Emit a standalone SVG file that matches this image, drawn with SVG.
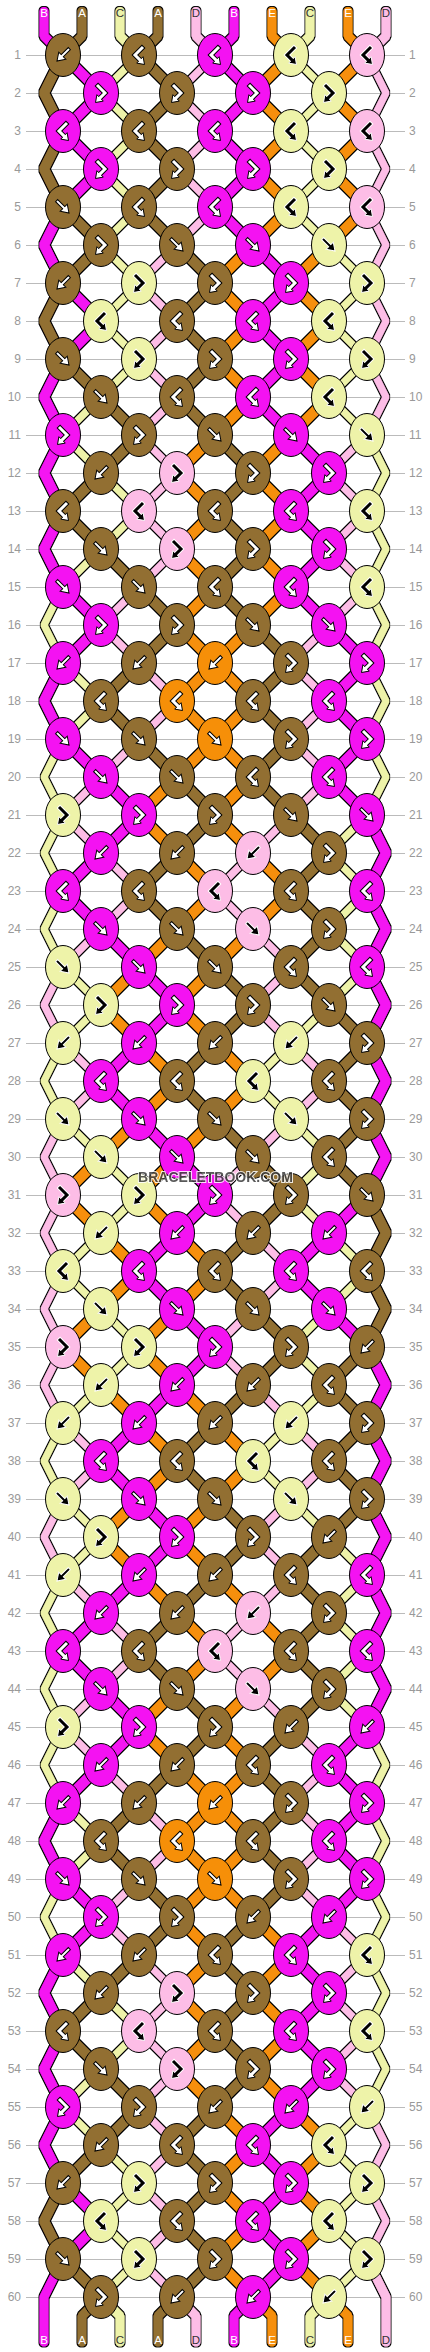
<svg xmlns="http://www.w3.org/2000/svg" width="430" height="2352" viewBox="0 0 430 2352">
<style>
.n{stroke:#926f32;stroke-width:10}
.m{stroke:#f412f2;stroke-width:10}
.o{stroke:#f68f08;stroke-width:10}
.y{stroke:#eef3a9;stroke-width:7}
.p{stroke:#fdbde6;stroke-width:7}
.e{stroke-width:9}
.bn{fill:#926f32;color:#fff;stroke:#000}
.mg{fill:#f412f2;color:#fff;stroke:#000}
.or{fill:#f68f08;color:#fff;stroke:#000}
.yl{fill:#eef3a9;color:#000;stroke:#fff}
.pk{fill:#fdbde6;color:#000;stroke:#fff}
.num{font-family:"Liberation Sans",Arial,sans-serif;font-size:12px;fill:#999}
.lt{font-family:"Liberation Sans",Arial,sans-serif;font-size:11.5px;text-anchor:middle}
</style>
<defs>
<filter id="ol" filterUnits="userSpaceOnUse" x="0" y="0" width="430" height="2352">
<feMorphology in="SourceAlpha" operator="dilate" radius="1" result="d"/>
<feMerge><feMergeNode in="d"/><feMergeNode in="SourceGraphic"/></feMerge>
</filter>
<path id="a1" d="M63 0l38 38"/><path id="a2" d="M139 0l-38 38"/><path id="a3" d="M139 0l38 38"/><path id="a4" d="M215 0l-38 38"/><path id="a5" d="M215 0l38 38"/><path id="a6" d="M291 0l-38 38"/><path id="a7" d="M291 0l38 38"/><path id="a8" d="M367 0l-38 38"/>
<path id="b1" d="M101 0l-38 38"/><path id="b2" d="M101 0l38 38"/><path id="b3" d="M177 0l-38 38"/><path id="b4" d="M177 0l38 38"/><path id="b5" d="M253 0l-38 38"/><path id="b6" d="M253 0l38 38"/><path id="b7" d="M329 0l-38 38"/><path id="b8" d="M329 0l38 38"/>
<path id="lc" d="M63-38L44 0L63 38"/><path id="rc" d="M367-38L386 0L367 38"/>
<path id="aF" d="M-9-1.5H1V-5L8.5 0L1 5V1.5H-9Z" fill="currentColor" stroke-width="1" stroke-linejoin="miter"/>
<g id="aH"><path d="M-4.7-8.7L4 0L-.9 4.9" fill="none" stroke-width="5" stroke-linejoin="miter"/><path d="M-5.5 9.5L2.3 8.1L-4.1 1.7Z" fill="currentColor" stroke-width="1"/><path d="M-4-8L4 0L-1.4 5.4" fill="none" stroke="currentColor" stroke-width="3" stroke-linejoin="miter"/></g>
<g id="fw"><ellipse rx="17.5" ry="21.5" stroke="#000" stroke-width="1"/><use href="#aF" transform="rotate(45)"/></g>
<g id="bw"><ellipse rx="17.5" ry="21.5" stroke="#000" stroke-width="1"/><use href="#aF" transform="rotate(135)"/></g>
<g id="fb"><ellipse rx="17.5" ry="21.5" stroke="#000" stroke-width="1"/><use href="#aH"/></g>
<g id="bf"><ellipse rx="17.5" ry="21.5" stroke="#000" stroke-width="1"/><use href="#aH" transform="scale(-1 1)"/></g>
</defs>
<rect width="430" height="2352" fill="#fff"/>
<g id="gridlines">
<path stroke="#bbb" stroke-width="1" shape-rendering="crispEdges" d="M26 55H405M26 93H405M26 131H405M26 169H405M26 207H405M26 245H405M26 283H405M26 321H405M26 359H405M26 397H405M26 435H405M26 473H405M26 511H405M26 549H405M26 587H405M26 625H405M26 663H405M26 701H405M26 739H405M26 777H405M26 815H405M26 853H405M26 891H405M26 929H405M26 967H405M26 1005H405M26 1043H405M26 1081H405M26 1119H405M26 1157H405M26 1195H405M26 1233H405M26 1271H405M26 1309H405M26 1347H405M26 1385H405M26 1423H405M26 1461H405M26 1499H405M26 1537H405M26 1575H405M26 1613H405M26 1651H405M26 1689H405M26 1727H405M26 1765H405M26 1803H405M26 1841H405M26 1879H405M26 1917H405M26 1955H405M26 1993H405M26 2031H405M26 2069H405M26 2107H405M26 2145H405M26 2183H405M26 2221H405M26 2259H405M26 2297H405"/>
<g class="num" text-anchor="end">
<text x="21" y="59">1</text><text x="21" y="97">2</text><text x="21" y="135">3</text><text x="21" y="173">4</text><text x="21" y="211">5</text><text x="21" y="249">6</text><text x="21" y="287">7</text><text x="21" y="325">8</text><text x="21" y="363">9</text><text x="21" y="401">10</text><text x="21" y="439">11</text><text x="21" y="477">12</text><text x="21" y="515">13</text><text x="21" y="553">14</text><text x="21" y="591">15</text><text x="21" y="629">16</text><text x="21" y="667">17</text><text x="21" y="705">18</text><text x="21" y="743">19</text><text x="21" y="781">20</text><text x="21" y="819">21</text><text x="21" y="857">22</text><text x="21" y="895">23</text><text x="21" y="933">24</text><text x="21" y="971">25</text><text x="21" y="1009">26</text><text x="21" y="1047">27</text><text x="21" y="1085">28</text><text x="21" y="1123">29</text><text x="21" y="1161">30</text><text x="21" y="1199">31</text><text x="21" y="1237">32</text><text x="21" y="1275">33</text><text x="21" y="1313">34</text><text x="21" y="1351">35</text><text x="21" y="1389">36</text><text x="21" y="1427">37</text><text x="21" y="1465">38</text><text x="21" y="1503">39</text><text x="21" y="1541">40</text><text x="21" y="1579">41</text><text x="21" y="1617">42</text><text x="21" y="1655">43</text><text x="21" y="1693">44</text><text x="21" y="1731">45</text><text x="21" y="1769">46</text><text x="21" y="1807">47</text><text x="21" y="1845">48</text><text x="21" y="1883">49</text><text x="21" y="1921">50</text><text x="21" y="1959">51</text><text x="21" y="1997">52</text><text x="21" y="2035">53</text><text x="21" y="2073">54</text><text x="21" y="2111">55</text><text x="21" y="2149">56</text><text x="21" y="2187">57</text><text x="21" y="2225">58</text><text x="21" y="2263">59</text><text x="21" y="2301">60</text>
</g>
<g class="num">
<text x="409" y="59">1</text><text x="409" y="97">2</text><text x="409" y="135">3</text><text x="409" y="173">4</text><text x="409" y="211">5</text><text x="409" y="249">6</text><text x="409" y="287">7</text><text x="409" y="325">8</text><text x="409" y="363">9</text><text x="409" y="401">10</text><text x="409" y="439">11</text><text x="409" y="477">12</text><text x="409" y="515">13</text><text x="409" y="553">14</text><text x="409" y="591">15</text><text x="409" y="629">16</text><text x="409" y="667">17</text><text x="409" y="705">18</text><text x="409" y="743">19</text><text x="409" y="781">20</text><text x="409" y="819">21</text><text x="409" y="857">22</text><text x="409" y="895">23</text><text x="409" y="933">24</text><text x="409" y="971">25</text><text x="409" y="1009">26</text><text x="409" y="1047">27</text><text x="409" y="1085">28</text><text x="409" y="1123">29</text><text x="409" y="1161">30</text><text x="409" y="1199">31</text><text x="409" y="1237">32</text><text x="409" y="1275">33</text><text x="409" y="1313">34</text><text x="409" y="1351">35</text><text x="409" y="1389">36</text><text x="409" y="1427">37</text><text x="409" y="1465">38</text><text x="409" y="1503">39</text><text x="409" y="1541">40</text><text x="409" y="1579">41</text><text x="409" y="1617">42</text><text x="409" y="1655">43</text><text x="409" y="1693">44</text><text x="409" y="1731">45</text><text x="409" y="1769">46</text><text x="409" y="1807">47</text><text x="409" y="1845">48</text><text x="409" y="1883">49</text><text x="409" y="1921">50</text><text x="409" y="1959">51</text><text x="409" y="1997">52</text><text x="409" y="2035">53</text><text x="409" y="2073">54</text><text x="409" y="2111">55</text><text x="409" y="2149">56</text><text x="409" y="2187">57</text><text x="409" y="2225">58</text><text x="409" y="2263">59</text><text x="409" y="2301">60</text>
</g>
</g>
<g id="connectors" filter="url(#ol)" fill="none" stroke-linecap="round" stroke-linejoin="bevel">
<path class="m e" d="M44 11.5V36L63 55"/><path class="n e" d="M82 11.5V36L63 55"/><path class="y e" d="M120 11.5V36L139 55"/><path class="n e" d="M158 11.5V36L139 55"/><path class="p e" d="M196 11.5V36L215 55"/><path class="m e" d="M234 11.5V36L215 55"/><path class="o e" d="M272 11.5V36L291 55"/><path class="y e" d="M310 11.5V36L291 55"/><path class="o e" d="M348 11.5V36L367 55"/><path class="p e" d="M386 11.5V36L367 55"/>
<path class="m e" d="M63 2259L44 2297V2342"/><path class="n e" d="M101 2297L82 2316V2342"/><path class="y e" d="M101 2297L120 2316V2342"/><path class="n e" d="M177 2297L158 2316V2342"/><path class="p e" d="M177 2297L196 2316V2342"/><path class="m e" d="M253 2297L234 2316V2342"/><path class="o e" d="M253 2297L272 2316V2342"/><path class="y e" d="M329 2297L310 2316V2342"/><path class="o e" d="M329 2297L348 2316V2342"/><path class="p e" d="M367 2259L386 2297V2342"/>
<g transform="translate(0 55)"><use href="#a1" class="m"/><use href="#a2" class="y"/><use href="#a3" class="n"/><use href="#a4" class="p"/><use href="#a5" class="m"/><use href="#a6" class="o"/><use href="#a7" class="y"/><use href="#a8" class="o"/></g>
<g transform="translate(0 93)"><use href="#b1" class="m"/><use href="#b2" class="y"/><use href="#b3" class="n"/><use href="#b4" class="p"/><use href="#b5" class="m"/><use href="#b6" class="o"/><use href="#b7" class="y"/><use href="#b8" class="o"/><use href="#lc" class="n"/><use href="#rc" class="p"/></g>
<g transform="translate(0 131)"><use href="#a1" class="m"/><use href="#a2" class="y"/><use href="#a3" class="n"/><use href="#a4" class="p"/><use href="#a5" class="m"/><use href="#a6" class="o"/><use href="#a7" class="y"/><use href="#a8" class="o"/></g>
<g transform="translate(0 169)"><use href="#b1" class="m"/><use href="#b2" class="y"/><use href="#b3" class="n"/><use href="#b4" class="p"/><use href="#b5" class="m"/><use href="#b6" class="o"/><use href="#b7" class="y"/><use href="#b8" class="o"/><use href="#lc" class="n"/><use href="#rc" class="p"/></g>
<g transform="translate(0 207)"><use href="#a1" class="n"/><use href="#a2" class="y"/><use href="#a3" class="n"/><use href="#a4" class="p"/><use href="#a5" class="m"/><use href="#a6" class="o"/><use href="#a7" class="y"/><use href="#a8" class="o"/></g>
<g transform="translate(0 245)"><use href="#b1" class="n"/><use href="#b2" class="y"/><use href="#b3" class="p"/><use href="#b4" class="n"/><use href="#b5" class="o"/><use href="#b6" class="m"/><use href="#b7" class="o"/><use href="#b8" class="y"/><use href="#lc" class="m"/><use href="#rc" class="p"/></g>
<g transform="translate(0 283)"><use href="#a1" class="m"/><use href="#a2" class="y"/><use href="#a3" class="p"/><use href="#a4" class="n"/><use href="#a5" class="o"/><use href="#a6" class="m"/><use href="#a7" class="o"/><use href="#a8" class="y"/></g>
<g transform="translate(0 321)"><use href="#b1" class="m"/><use href="#b2" class="y"/><use href="#b3" class="p"/><use href="#b4" class="n"/><use href="#b5" class="o"/><use href="#b6" class="m"/><use href="#b7" class="o"/><use href="#b8" class="y"/><use href="#lc" class="n"/><use href="#rc" class="p"/></g>
<g transform="translate(0 359)"><use href="#a1" class="n"/><use href="#a2" class="y"/><use href="#a3" class="p"/><use href="#a4" class="n"/><use href="#a5" class="o"/><use href="#a6" class="m"/><use href="#a7" class="o"/><use href="#a8" class="y"/></g>
<g transform="translate(0 397)"><use href="#b1" class="y"/><use href="#b2" class="n"/><use href="#b3" class="p"/><use href="#b4" class="n"/><use href="#b5" class="o"/><use href="#b6" class="m"/><use href="#b7" class="o"/><use href="#b8" class="y"/><use href="#lc" class="m"/><use href="#rc" class="p"/></g>
<g transform="translate(0 435)"><use href="#a1" class="y"/><use href="#a2" class="n"/><use href="#a3" class="p"/><use href="#a4" class="o"/><use href="#a5" class="n"/><use href="#a6" class="o"/><use href="#a7" class="m"/><use href="#a8" class="p"/></g>
<g transform="translate(0 473)"><use href="#b1" class="n"/><use href="#b2" class="y"/><use href="#b3" class="p"/><use href="#b4" class="o"/><use href="#b5" class="n"/><use href="#b6" class="o"/><use href="#b7" class="m"/><use href="#b8" class="p"/><use href="#lc" class="m"/><use href="#rc" class="y"/></g>
<g transform="translate(0 511)"><use href="#a1" class="n"/><use href="#a2" class="y"/><use href="#a3" class="p"/><use href="#a4" class="o"/><use href="#a5" class="n"/><use href="#a6" class="o"/><use href="#a7" class="m"/><use href="#a8" class="p"/></g>
<g transform="translate(0 549)"><use href="#b1" class="y"/><use href="#b2" class="n"/><use href="#b3" class="p"/><use href="#b4" class="o"/><use href="#b5" class="n"/><use href="#b6" class="o"/><use href="#b7" class="m"/><use href="#b8" class="p"/><use href="#lc" class="m"/><use href="#rc" class="y"/></g>
<g transform="translate(0 587)"><use href="#a1" class="m"/><use href="#a2" class="p"/><use href="#a3" class="n"/><use href="#a4" class="o"/><use href="#a5" class="n"/><use href="#a6" class="o"/><use href="#a7" class="m"/><use href="#a8" class="p"/></g>
<g transform="translate(0 625)"><use href="#b1" class="m"/><use href="#b2" class="p"/><use href="#b3" class="n"/><use href="#b4" class="o"/><use href="#b5" class="o"/><use href="#b6" class="n"/><use href="#b7" class="p"/><use href="#b8" class="m"/><use href="#lc" class="y"/><use href="#rc" class="y"/></g>
<g transform="translate(0 663)"><use href="#a1" class="y"/><use href="#a2" class="n"/><use href="#a3" class="p"/><use href="#a4" class="o"/><use href="#a5" class="o"/><use href="#a6" class="n"/><use href="#a7" class="p"/><use href="#a8" class="m"/></g>
<g transform="translate(0 701)"><use href="#b1" class="y"/><use href="#b2" class="n"/><use href="#b3" class="p"/><use href="#b4" class="o"/><use href="#b5" class="o"/><use href="#b6" class="n"/><use href="#b7" class="p"/><use href="#b8" class="m"/><use href="#lc" class="m"/><use href="#rc" class="y"/></g>
<g transform="translate(0 739)"><use href="#a1" class="m"/><use href="#a2" class="p"/><use href="#a3" class="n"/><use href="#a4" class="o"/><use href="#a5" class="o"/><use href="#a6" class="n"/><use href="#a7" class="p"/><use href="#a8" class="m"/></g>
<g transform="translate(0 777)"><use href="#b1" class="p"/><use href="#b2" class="m"/><use href="#b3" class="o"/><use href="#b4" class="n"/><use href="#b5" class="o"/><use href="#b6" class="n"/><use href="#b7" class="p"/><use href="#b8" class="m"/><use href="#lc" class="y"/><use href="#rc" class="y"/></g>
<g transform="translate(0 815)"><use href="#a1" class="p"/><use href="#a2" class="m"/><use href="#a3" class="o"/><use href="#a4" class="n"/><use href="#a5" class="o"/><use href="#a6" class="p"/><use href="#a7" class="n"/><use href="#a8" class="y"/></g>
<g transform="translate(0 853)"><use href="#b1" class="m"/><use href="#b2" class="p"/><use href="#b3" class="n"/><use href="#b4" class="o"/><use href="#b5" class="p"/><use href="#b6" class="o"/><use href="#b7" class="n"/><use href="#b8" class="y"/><use href="#lc" class="y"/><use href="#rc" class="m"/></g>
<g transform="translate(0 891)"><use href="#a1" class="m"/><use href="#a2" class="p"/><use href="#a3" class="n"/><use href="#a4" class="o"/><use href="#a5" class="p"/><use href="#a6" class="o"/><use href="#a7" class="n"/><use href="#a8" class="y"/></g>
<g transform="translate(0 929)"><use href="#b1" class="p"/><use href="#b2" class="m"/><use href="#b3" class="o"/><use href="#b4" class="n"/><use href="#b5" class="o"/><use href="#b6" class="p"/><use href="#b7" class="n"/><use href="#b8" class="y"/><use href="#lc" class="y"/><use href="#rc" class="m"/></g>
<g transform="translate(0 967)"><use href="#a1" class="y"/><use href="#a2" class="o"/><use href="#a3" class="m"/><use href="#a4" class="o"/><use href="#a5" class="n"/><use href="#a6" class="p"/><use href="#a7" class="n"/><use href="#a8" class="y"/></g>
<g transform="translate(0 1005)"><use href="#b1" class="y"/><use href="#b2" class="o"/><use href="#b3" class="m"/><use href="#b4" class="o"/><use href="#b5" class="n"/><use href="#b6" class="p"/><use href="#b7" class="y"/><use href="#b8" class="n"/><use href="#lc" class="p"/><use href="#rc" class="m"/></g>
<g transform="translate(0 1043)"><use href="#a1" class="p"/><use href="#a2" class="m"/><use href="#a3" class="o"/><use href="#a4" class="n"/><use href="#a5" class="o"/><use href="#a6" class="y"/><use href="#a7" class="p"/><use href="#a8" class="n"/></g>
<g transform="translate(0 1081)"><use href="#b1" class="p"/><use href="#b2" class="m"/><use href="#b3" class="o"/><use href="#b4" class="n"/><use href="#b5" class="o"/><use href="#b6" class="y"/><use href="#b7" class="p"/><use href="#b8" class="n"/><use href="#lc" class="y"/><use href="#rc" class="m"/></g>
<g transform="translate(0 1119)"><use href="#a1" class="y"/><use href="#a2" class="o"/><use href="#a3" class="m"/><use href="#a4" class="o"/><use href="#a5" class="n"/><use href="#a6" class="p"/><use href="#a7" class="y"/><use href="#a8" class="n"/></g>
<g transform="translate(0 1157)"><use href="#b1" class="o"/><use href="#b2" class="y"/><use href="#b3" class="o"/><use href="#b4" class="m"/><use href="#b5" class="p"/><use href="#b6" class="n"/><use href="#b7" class="y"/><use href="#b8" class="n"/><use href="#lc" class="p"/><use href="#rc" class="m"/></g>
<g transform="translate(0 1195)"><use href="#a1" class="o"/><use href="#a2" class="y"/><use href="#a3" class="o"/><use href="#a4" class="m"/><use href="#a5" class="p"/><use href="#a6" class="n"/><use href="#a7" class="y"/><use href="#a8" class="m"/></g>
<g transform="translate(0 1233)"><use href="#b1" class="y"/><use href="#b2" class="o"/><use href="#b3" class="m"/><use href="#b4" class="o"/><use href="#b5" class="n"/><use href="#b6" class="p"/><use href="#b7" class="m"/><use href="#b8" class="y"/><use href="#lc" class="p"/><use href="#rc" class="n"/></g>
<g transform="translate(0 1271)"><use href="#a1" class="y"/><use href="#a2" class="o"/><use href="#a3" class="m"/><use href="#a4" class="o"/><use href="#a5" class="n"/><use href="#a6" class="p"/><use href="#a7" class="m"/><use href="#a8" class="y"/></g>
<g transform="translate(0 1309)"><use href="#b1" class="o"/><use href="#b2" class="y"/><use href="#b3" class="o"/><use href="#b4" class="m"/><use href="#b5" class="p"/><use href="#b6" class="n"/><use href="#b7" class="y"/><use href="#b8" class="m"/><use href="#lc" class="p"/><use href="#rc" class="n"/></g>
<g transform="translate(0 1347)"><use href="#a1" class="o"/><use href="#a2" class="y"/><use href="#a3" class="o"/><use href="#a4" class="m"/><use href="#a5" class="p"/><use href="#a6" class="n"/><use href="#a7" class="y"/><use href="#a8" class="n"/></g>
<g transform="translate(0 1385)"><use href="#b1" class="y"/><use href="#b2" class="o"/><use href="#b3" class="m"/><use href="#b4" class="o"/><use href="#b5" class="n"/><use href="#b6" class="p"/><use href="#b7" class="y"/><use href="#b8" class="n"/><use href="#lc" class="p"/><use href="#rc" class="m"/></g>
<g transform="translate(0 1423)"><use href="#a1" class="p"/><use href="#a2" class="m"/><use href="#a3" class="o"/><use href="#a4" class="n"/><use href="#a5" class="o"/><use href="#a6" class="y"/><use href="#a7" class="p"/><use href="#a8" class="n"/></g>
<g transform="translate(0 1461)"><use href="#b1" class="p"/><use href="#b2" class="m"/><use href="#b3" class="o"/><use href="#b4" class="n"/><use href="#b5" class="o"/><use href="#b6" class="y"/><use href="#b7" class="p"/><use href="#b8" class="n"/><use href="#lc" class="y"/><use href="#rc" class="m"/></g>
<g transform="translate(0 1499)"><use href="#a1" class="y"/><use href="#a2" class="o"/><use href="#a3" class="m"/><use href="#a4" class="o"/><use href="#a5" class="n"/><use href="#a6" class="p"/><use href="#a7" class="y"/><use href="#a8" class="n"/></g>
<g transform="translate(0 1537)"><use href="#b1" class="y"/><use href="#b2" class="o"/><use href="#b3" class="m"/><use href="#b4" class="o"/><use href="#b5" class="n"/><use href="#b6" class="p"/><use href="#b7" class="n"/><use href="#b8" class="y"/><use href="#lc" class="p"/><use href="#rc" class="m"/></g>
<g transform="translate(0 1575)"><use href="#a1" class="p"/><use href="#a2" class="m"/><use href="#a3" class="o"/><use href="#a4" class="n"/><use href="#a5" class="o"/><use href="#a6" class="p"/><use href="#a7" class="n"/><use href="#a8" class="y"/></g>
<g transform="translate(0 1613)"><use href="#b1" class="m"/><use href="#b2" class="p"/><use href="#b3" class="n"/><use href="#b4" class="o"/><use href="#b5" class="p"/><use href="#b6" class="o"/><use href="#b7" class="n"/><use href="#b8" class="y"/><use href="#lc" class="y"/><use href="#rc" class="m"/></g>
<g transform="translate(0 1651)"><use href="#a1" class="m"/><use href="#a2" class="p"/><use href="#a3" class="n"/><use href="#a4" class="o"/><use href="#a5" class="p"/><use href="#a6" class="o"/><use href="#a7" class="n"/><use href="#a8" class="y"/></g>
<g transform="translate(0 1689)"><use href="#b1" class="p"/><use href="#b2" class="m"/><use href="#b3" class="o"/><use href="#b4" class="n"/><use href="#b5" class="o"/><use href="#b6" class="p"/><use href="#b7" class="n"/><use href="#b8" class="y"/><use href="#lc" class="y"/><use href="#rc" class="m"/></g>
<g transform="translate(0 1727)"><use href="#a1" class="p"/><use href="#a2" class="m"/><use href="#a3" class="o"/><use href="#a4" class="n"/><use href="#a5" class="o"/><use href="#a6" class="n"/><use href="#a7" class="p"/><use href="#a8" class="m"/></g>
<g transform="translate(0 1765)"><use href="#b1" class="m"/><use href="#b2" class="p"/><use href="#b3" class="n"/><use href="#b4" class="o"/><use href="#b5" class="o"/><use href="#b6" class="n"/><use href="#b7" class="p"/><use href="#b8" class="m"/><use href="#lc" class="y"/><use href="#rc" class="y"/></g>
<g transform="translate(0 1803)"><use href="#a1" class="y"/><use href="#a2" class="n"/><use href="#a3" class="p"/><use href="#a4" class="o"/><use href="#a5" class="o"/><use href="#a6" class="n"/><use href="#a7" class="p"/><use href="#a8" class="m"/></g>
<g transform="translate(0 1841)"><use href="#b1" class="y"/><use href="#b2" class="n"/><use href="#b3" class="p"/><use href="#b4" class="o"/><use href="#b5" class="o"/><use href="#b6" class="n"/><use href="#b7" class="p"/><use href="#b8" class="m"/><use href="#lc" class="m"/><use href="#rc" class="y"/></g>
<g transform="translate(0 1879)"><use href="#a1" class="m"/><use href="#a2" class="p"/><use href="#a3" class="n"/><use href="#a4" class="o"/><use href="#a5" class="o"/><use href="#a6" class="n"/><use href="#a7" class="p"/><use href="#a8" class="m"/></g>
<g transform="translate(0 1917)"><use href="#b1" class="m"/><use href="#b2" class="p"/><use href="#b3" class="n"/><use href="#b4" class="o"/><use href="#b5" class="n"/><use href="#b6" class="o"/><use href="#b7" class="m"/><use href="#b8" class="p"/><use href="#lc" class="y"/><use href="#rc" class="y"/></g>
<g transform="translate(0 1955)"><use href="#a1" class="y"/><use href="#a2" class="n"/><use href="#a3" class="p"/><use href="#a4" class="o"/><use href="#a5" class="n"/><use href="#a6" class="o"/><use href="#a7" class="m"/><use href="#a8" class="p"/></g>
<g transform="translate(0 1993)"><use href="#b1" class="n"/><use href="#b2" class="y"/><use href="#b3" class="p"/><use href="#b4" class="o"/><use href="#b5" class="n"/><use href="#b6" class="o"/><use href="#b7" class="m"/><use href="#b8" class="p"/><use href="#lc" class="m"/><use href="#rc" class="y"/></g>
<g transform="translate(0 2031)"><use href="#a1" class="n"/><use href="#a2" class="y"/><use href="#a3" class="p"/><use href="#a4" class="o"/><use href="#a5" class="n"/><use href="#a6" class="o"/><use href="#a7" class="m"/><use href="#a8" class="p"/></g>
<g transform="translate(0 2069)"><use href="#b1" class="y"/><use href="#b2" class="n"/><use href="#b3" class="p"/><use href="#b4" class="o"/><use href="#b5" class="n"/><use href="#b6" class="o"/><use href="#b7" class="m"/><use href="#b8" class="p"/><use href="#lc" class="m"/><use href="#rc" class="y"/></g>
<g transform="translate(0 2107)"><use href="#a1" class="y"/><use href="#a2" class="n"/><use href="#a3" class="p"/><use href="#a4" class="n"/><use href="#a5" class="o"/><use href="#a6" class="m"/><use href="#a7" class="o"/><use href="#a8" class="y"/></g>
<g transform="translate(0 2145)"><use href="#b1" class="n"/><use href="#b2" class="y"/><use href="#b3" class="p"/><use href="#b4" class="n"/><use href="#b5" class="o"/><use href="#b6" class="m"/><use href="#b7" class="o"/><use href="#b8" class="y"/><use href="#lc" class="m"/><use href="#rc" class="p"/></g>
<g transform="translate(0 2183)"><use href="#a1" class="m"/><use href="#a2" class="y"/><use href="#a3" class="p"/><use href="#a4" class="n"/><use href="#a5" class="o"/><use href="#a6" class="m"/><use href="#a7" class="o"/><use href="#a8" class="y"/></g>
<g transform="translate(0 2221)"><use href="#b1" class="m"/><use href="#b2" class="y"/><use href="#b3" class="p"/><use href="#b4" class="n"/><use href="#b5" class="o"/><use href="#b6" class="m"/><use href="#b7" class="o"/><use href="#b8" class="y"/><use href="#lc" class="n"/><use href="#rc" class="p"/></g>
<g transform="translate(0 2259)"><use href="#a1" class="n"/><use href="#a2" class="y"/><use href="#a3" class="p"/><use href="#a4" class="n"/><use href="#a5" class="o"/><use href="#a6" class="m"/><use href="#a7" class="o"/><use href="#a8" class="y"/></g>
</g>
<g id="string-labels" class="lt">
<text x="44" y="16.5" fill="#fff">B</text><text x="82" y="16.5" fill="#fff">A</text><text x="120" y="16.5" fill="#333">C</text><text x="158" y="16.5" fill="#fff">A</text><text x="196" y="16.5" fill="#333">D</text><text x="234" y="16.5" fill="#fff">B</text><text x="272" y="16.5" fill="#fff">E</text><text x="310" y="16.5" fill="#333">C</text><text x="348" y="16.5" fill="#fff">E</text><text x="386" y="16.5" fill="#333">D</text>
<text x="44" y="2344" fill="#fff">B</text><text x="82" y="2344" fill="#fff">A</text><text x="120" y="2344" fill="#333">C</text><text x="158" y="2344" fill="#fff">A</text><text x="196" y="2344" fill="#333">D</text><text x="234" y="2344" fill="#fff">B</text><text x="272" y="2344" fill="#fff">E</text><text x="310" y="2344" fill="#333">C</text><text x="348" y="2344" fill="#fff">E</text><text x="386" y="2344" fill="#333">D</text>
</g>
<g id="knots">
<g id="row1" transform="translate(0 55)"><g id="k1-1"><use href="#bw" x="63" class="bn"/></g><g id="k1-2"><use href="#bf" x="139" class="bn"/></g><g id="k1-3"><use href="#bf" x="215" class="mg"/></g><g id="k1-4"><use href="#bf" x="291" class="yl"/></g><g id="k1-5"><use href="#bf" x="367" class="pk"/></g></g>
<g id="row2" transform="translate(0 93)"><g id="k2-1"><use href="#fb" x="101" class="mg"/></g><g id="k2-2"><use href="#fb" x="177" class="bn"/></g><g id="k2-3"><use href="#fb" x="253" class="mg"/></g><g id="k2-4"><use href="#fb" x="329" class="yl"/></g></g>
<g id="row3" transform="translate(0 131)"><g id="k3-1"><use href="#bf" x="63" class="mg"/></g><g id="k3-2"><use href="#bf" x="139" class="bn"/></g><g id="k3-3"><use href="#bf" x="215" class="mg"/></g><g id="k3-4"><use href="#bf" x="291" class="yl"/></g><g id="k3-5"><use href="#bf" x="367" class="pk"/></g></g>
<g id="row4" transform="translate(0 169)"><g id="k4-1"><use href="#fb" x="101" class="mg"/></g><g id="k4-2"><use href="#fb" x="177" class="bn"/></g><g id="k4-3"><use href="#fb" x="253" class="mg"/></g><g id="k4-4"><use href="#fb" x="329" class="yl"/></g></g>
<g id="row5" transform="translate(0 207)"><g id="k5-1"><use href="#fw" x="63" class="bn"/></g><g id="k5-2"><use href="#bf" x="139" class="bn"/></g><g id="k5-3"><use href="#bf" x="215" class="mg"/></g><g id="k5-4"><use href="#bf" x="291" class="yl"/></g><g id="k5-5"><use href="#bf" x="367" class="pk"/></g></g>
<g id="row6" transform="translate(0 245)"><g id="k6-1"><use href="#fb" x="101" class="bn"/></g><g id="k6-2"><use href="#fw" x="177" class="bn"/></g><g id="k6-3"><use href="#fw" x="253" class="mg"/></g><g id="k6-4"><use href="#fw" x="329" class="yl"/></g></g>
<g id="row7" transform="translate(0 283)"><g id="k7-1"><use href="#bw" x="63" class="bn"/></g><g id="k7-2"><use href="#fb" x="139" class="yl"/></g><g id="k7-3"><use href="#fb" x="215" class="bn"/></g><g id="k7-4"><use href="#fb" x="291" class="mg"/></g><g id="k7-5"><use href="#fb" x="367" class="yl"/></g></g>
<g id="row8" transform="translate(0 321)"><g id="k8-1"><use href="#bf" x="101" class="yl"/></g><g id="k8-2"><use href="#bf" x="177" class="bn"/></g><g id="k8-3"><use href="#bf" x="253" class="mg"/></g><g id="k8-4"><use href="#bf" x="329" class="yl"/></g></g>
<g id="row9" transform="translate(0 359)"><g id="k9-1"><use href="#fw" x="63" class="bn"/></g><g id="k9-2"><use href="#fb" x="139" class="yl"/></g><g id="k9-3"><use href="#fb" x="215" class="bn"/></g><g id="k9-4"><use href="#fb" x="291" class="mg"/></g><g id="k9-5"><use href="#fb" x="367" class="yl"/></g></g>
<g id="row10" transform="translate(0 397)"><g id="k10-1"><use href="#fw" x="101" class="bn"/></g><g id="k10-2"><use href="#bf" x="177" class="bn"/></g><g id="k10-3"><use href="#bf" x="253" class="mg"/></g><g id="k10-4"><use href="#bf" x="329" class="yl"/></g></g>
<g id="row11" transform="translate(0 435)"><g id="k11-1"><use href="#fb" x="63" class="mg"/></g><g id="k11-2"><use href="#fb" x="139" class="bn"/></g><g id="k11-3"><use href="#fw" x="215" class="bn"/></g><g id="k11-4"><use href="#fw" x="291" class="mg"/></g><g id="k11-5"><use href="#fw" x="367" class="yl"/></g></g>
<g id="row12" transform="translate(0 473)"><g id="k12-1"><use href="#bw" x="101" class="bn"/></g><g id="k12-2"><use href="#fb" x="177" class="pk"/></g><g id="k12-3"><use href="#fb" x="253" class="bn"/></g><g id="k12-4"><use href="#fb" x="329" class="mg"/></g></g>
<g id="row13" transform="translate(0 511)"><g id="k13-1"><use href="#bf" x="63" class="bn"/></g><g id="k13-2"><use href="#bf" x="139" class="pk"/></g><g id="k13-3"><use href="#bf" x="215" class="bn"/></g><g id="k13-4"><use href="#bf" x="291" class="mg"/></g><g id="k13-5"><use href="#bf" x="367" class="yl"/></g></g>
<g id="row14" transform="translate(0 549)"><g id="k14-1"><use href="#fw" x="101" class="bn"/></g><g id="k14-2"><use href="#fb" x="177" class="pk"/></g><g id="k14-3"><use href="#fb" x="253" class="bn"/></g><g id="k14-4"><use href="#fb" x="329" class="mg"/></g></g>
<g id="row15" transform="translate(0 587)"><g id="k15-1"><use href="#fw" x="63" class="mg"/></g><g id="k15-2"><use href="#fw" x="139" class="bn"/></g><g id="k15-3"><use href="#bf" x="215" class="bn"/></g><g id="k15-4"><use href="#bf" x="291" class="mg"/></g><g id="k15-5"><use href="#bf" x="367" class="yl"/></g></g>
<g id="row16" transform="translate(0 625)"><g id="k16-1"><use href="#fb" x="101" class="mg"/></g><g id="k16-2"><use href="#fb" x="177" class="bn"/></g><g id="k16-3"><use href="#fw" x="253" class="bn"/></g><g id="k16-4"><use href="#fw" x="329" class="mg"/></g></g>
<g id="row17" transform="translate(0 663)"><g id="k17-1"><use href="#bw" x="63" class="mg"/></g><g id="k17-2"><use href="#bw" x="139" class="bn"/></g><g id="k17-3"><use href="#bw" x="215" class="or"/></g><g id="k17-4"><use href="#fb" x="291" class="bn"/></g><g id="k17-5"><use href="#fb" x="367" class="mg"/></g></g>
<g id="row18" transform="translate(0 701)"><g id="k18-1"><use href="#bf" x="101" class="bn"/></g><g id="k18-2"><use href="#bf" x="177" class="or"/></g><g id="k18-3"><use href="#bf" x="253" class="bn"/></g><g id="k18-4"><use href="#bf" x="329" class="mg"/></g></g>
<g id="row19" transform="translate(0 739)"><g id="k19-1"><use href="#fw" x="63" class="mg"/></g><g id="k19-2"><use href="#fw" x="139" class="bn"/></g><g id="k19-3"><use href="#fw" x="215" class="or"/></g><g id="k19-4"><use href="#fb" x="291" class="bn"/></g><g id="k19-5"><use href="#fb" x="367" class="mg"/></g></g>
<g id="row20" transform="translate(0 777)"><g id="k20-1"><use href="#fw" x="101" class="mg"/></g><g id="k20-2"><use href="#fw" x="177" class="bn"/></g><g id="k20-3"><use href="#bf" x="253" class="bn"/></g><g id="k20-4"><use href="#bf" x="329" class="mg"/></g></g>
<g id="row21" transform="translate(0 815)"><g id="k21-1"><use href="#fb" x="63" class="yl"/></g><g id="k21-2"><use href="#fb" x="139" class="mg"/></g><g id="k21-3"><use href="#fb" x="215" class="bn"/></g><g id="k21-4"><use href="#fw" x="291" class="bn"/></g><g id="k21-5"><use href="#fw" x="367" class="mg"/></g></g>
<g id="row22" transform="translate(0 853)"><g id="k22-1"><use href="#bw" x="101" class="mg"/></g><g id="k22-2"><use href="#bw" x="177" class="bn"/></g><g id="k22-3"><use href="#bw" x="253" class="pk"/></g><g id="k22-4"><use href="#fb" x="329" class="bn"/></g></g>
<g id="row23" transform="translate(0 891)"><g id="k23-1"><use href="#bf" x="63" class="mg"/></g><g id="k23-2"><use href="#bf" x="139" class="bn"/></g><g id="k23-3"><use href="#bf" x="215" class="pk"/></g><g id="k23-4"><use href="#bf" x="291" class="bn"/></g><g id="k23-5"><use href="#bf" x="367" class="mg"/></g></g>
<g id="row24" transform="translate(0 929)"><g id="k24-1"><use href="#fw" x="101" class="mg"/></g><g id="k24-2"><use href="#fw" x="177" class="bn"/></g><g id="k24-3"><use href="#fw" x="253" class="pk"/></g><g id="k24-4"><use href="#fb" x="329" class="bn"/></g></g>
<g id="row25" transform="translate(0 967)"><g id="k25-1"><use href="#fw" x="63" class="yl"/></g><g id="k25-2"><use href="#fw" x="139" class="mg"/></g><g id="k25-3"><use href="#fw" x="215" class="bn"/></g><g id="k25-4"><use href="#bf" x="291" class="bn"/></g><g id="k25-5"><use href="#bf" x="367" class="mg"/></g></g>
<g id="row26" transform="translate(0 1005)"><g id="k26-1"><use href="#fb" x="101" class="yl"/></g><g id="k26-2"><use href="#fb" x="177" class="mg"/></g><g id="k26-3"><use href="#fb" x="253" class="bn"/></g><g id="k26-4"><use href="#fw" x="329" class="bn"/></g></g>
<g id="row27" transform="translate(0 1043)"><g id="k27-1"><use href="#bw" x="63" class="yl"/></g><g id="k27-2"><use href="#bw" x="139" class="mg"/></g><g id="k27-3"><use href="#bw" x="215" class="bn"/></g><g id="k27-4"><use href="#bw" x="291" class="yl"/></g><g id="k27-5"><use href="#fb" x="367" class="bn"/></g></g>
<g id="row28" transform="translate(0 1081)"><g id="k28-1"><use href="#bf" x="101" class="mg"/></g><g id="k28-2"><use href="#bf" x="177" class="bn"/></g><g id="k28-3"><use href="#bf" x="253" class="yl"/></g><g id="k28-4"><use href="#bf" x="329" class="bn"/></g></g>
<g id="row29" transform="translate(0 1119)"><g id="k29-1"><use href="#fw" x="63" class="yl"/></g><g id="k29-2"><use href="#fw" x="139" class="mg"/></g><g id="k29-3"><use href="#fw" x="215" class="bn"/></g><g id="k29-4"><use href="#fw" x="291" class="yl"/></g><g id="k29-5"><use href="#fb" x="367" class="bn"/></g></g>
<g id="row30" transform="translate(0 1157)"><g id="k30-1"><use href="#fw" x="101" class="yl"/></g><g id="k30-2"><use href="#fw" x="177" class="mg"/></g><g id="k30-3"><use href="#fw" x="253" class="bn"/></g><g id="k30-4"><use href="#bf" x="329" class="bn"/></g></g>
<g id="row31" transform="translate(0 1195)"><g id="k31-1"><use href="#fb" x="63" class="pk"/></g><g id="k31-2"><use href="#fb" x="139" class="yl"/></g><g id="k31-3"><use href="#fb" x="215" class="mg"/></g><g id="k31-4"><use href="#fb" x="291" class="bn"/></g><g id="k31-5"><use href="#fw" x="367" class="bn"/></g></g>
<g id="row32" transform="translate(0 1233)"><g id="k32-1"><use href="#bw" x="101" class="yl"/></g><g id="k32-2"><use href="#bw" x="177" class="mg"/></g><g id="k32-3"><use href="#bw" x="253" class="bn"/></g><g id="k32-4"><use href="#bw" x="329" class="mg"/></g></g>
<g id="row33" transform="translate(0 1271)"><g id="k33-1"><use href="#bf" x="63" class="yl"/></g><g id="k33-2"><use href="#bf" x="139" class="mg"/></g><g id="k33-3"><use href="#bf" x="215" class="bn"/></g><g id="k33-4"><use href="#bf" x="291" class="mg"/></g><g id="k33-5"><use href="#bf" x="367" class="bn"/></g></g>
<g id="row34" transform="translate(0 1309)"><g id="k34-1"><use href="#fw" x="101" class="yl"/></g><g id="k34-2"><use href="#fw" x="177" class="mg"/></g><g id="k34-3"><use href="#fw" x="253" class="bn"/></g><g id="k34-4"><use href="#fw" x="329" class="mg"/></g></g>
<g id="row35" transform="translate(0 1347)"><g id="k35-1"><use href="#fb" x="63" class="pk"/></g><g id="k35-2"><use href="#fb" x="139" class="yl"/></g><g id="k35-3"><use href="#fb" x="215" class="mg"/></g><g id="k35-4"><use href="#fb" x="291" class="bn"/></g><g id="k35-5"><use href="#bw" x="367" class="bn"/></g></g>
<g id="row36" transform="translate(0 1385)"><g id="k36-1"><use href="#bw" x="101" class="yl"/></g><g id="k36-2"><use href="#bw" x="177" class="mg"/></g><g id="k36-3"><use href="#bw" x="253" class="bn"/></g><g id="k36-4"><use href="#bf" x="329" class="bn"/></g></g>
<g id="row37" transform="translate(0 1423)"><g id="k37-1"><use href="#bw" x="63" class="yl"/></g><g id="k37-2"><use href="#bw" x="139" class="mg"/></g><g id="k37-3"><use href="#bw" x="215" class="bn"/></g><g id="k37-4"><use href="#bw" x="291" class="yl"/></g><g id="k37-5"><use href="#fb" x="367" class="bn"/></g></g>
<g id="row38" transform="translate(0 1461)"><g id="k38-1"><use href="#bf" x="101" class="mg"/></g><g id="k38-2"><use href="#bf" x="177" class="bn"/></g><g id="k38-3"><use href="#bf" x="253" class="yl"/></g><g id="k38-4"><use href="#bf" x="329" class="bn"/></g></g>
<g id="row39" transform="translate(0 1499)"><g id="k39-1"><use href="#fw" x="63" class="yl"/></g><g id="k39-2"><use href="#fw" x="139" class="mg"/></g><g id="k39-3"><use href="#fw" x="215" class="bn"/></g><g id="k39-4"><use href="#fw" x="291" class="yl"/></g><g id="k39-5"><use href="#fb" x="367" class="bn"/></g></g>
<g id="row40" transform="translate(0 1537)"><g id="k40-1"><use href="#fb" x="101" class="yl"/></g><g id="k40-2"><use href="#fb" x="177" class="mg"/></g><g id="k40-3"><use href="#fb" x="253" class="bn"/></g><g id="k40-4"><use href="#bw" x="329" class="bn"/></g></g>
<g id="row41" transform="translate(0 1575)"><g id="k41-1"><use href="#bw" x="63" class="yl"/></g><g id="k41-2"><use href="#bw" x="139" class="mg"/></g><g id="k41-3"><use href="#bw" x="215" class="bn"/></g><g id="k41-4"><use href="#bf" x="291" class="bn"/></g><g id="k41-5"><use href="#bf" x="367" class="mg"/></g></g>
<g id="row42" transform="translate(0 1613)"><g id="k42-1"><use href="#bw" x="101" class="mg"/></g><g id="k42-2"><use href="#bw" x="177" class="bn"/></g><g id="k42-3"><use href="#bw" x="253" class="pk"/></g><g id="k42-4"><use href="#fb" x="329" class="bn"/></g></g>
<g id="row43" transform="translate(0 1651)"><g id="k43-1"><use href="#bf" x="63" class="mg"/></g><g id="k43-2"><use href="#bf" x="139" class="bn"/></g><g id="k43-3"><use href="#bf" x="215" class="pk"/></g><g id="k43-4"><use href="#bf" x="291" class="bn"/></g><g id="k43-5"><use href="#bf" x="367" class="mg"/></g></g>
<g id="row44" transform="translate(0 1689)"><g id="k44-1"><use href="#fw" x="101" class="mg"/></g><g id="k44-2"><use href="#fw" x="177" class="bn"/></g><g id="k44-3"><use href="#fw" x="253" class="pk"/></g><g id="k44-4"><use href="#fb" x="329" class="bn"/></g></g>
<g id="row45" transform="translate(0 1727)"><g id="k45-1"><use href="#fb" x="63" class="yl"/></g><g id="k45-2"><use href="#fb" x="139" class="mg"/></g><g id="k45-3"><use href="#fb" x="215" class="bn"/></g><g id="k45-4"><use href="#bw" x="291" class="bn"/></g><g id="k45-5"><use href="#bw" x="367" class="mg"/></g></g>
<g id="row46" transform="translate(0 1765)"><g id="k46-1"><use href="#bw" x="101" class="mg"/></g><g id="k46-2"><use href="#bw" x="177" class="bn"/></g><g id="k46-3"><use href="#bf" x="253" class="bn"/></g><g id="k46-4"><use href="#bf" x="329" class="mg"/></g></g>
<g id="row47" transform="translate(0 1803)"><g id="k47-1"><use href="#bw" x="63" class="mg"/></g><g id="k47-2"><use href="#bw" x="139" class="bn"/></g><g id="k47-3"><use href="#bw" x="215" class="or"/></g><g id="k47-4"><use href="#fb" x="291" class="bn"/></g><g id="k47-5"><use href="#fb" x="367" class="mg"/></g></g>
<g id="row48" transform="translate(0 1841)"><g id="k48-1"><use href="#bf" x="101" class="bn"/></g><g id="k48-2"><use href="#bf" x="177" class="or"/></g><g id="k48-3"><use href="#bf" x="253" class="bn"/></g><g id="k48-4"><use href="#bf" x="329" class="mg"/></g></g>
<g id="row49" transform="translate(0 1879)"><g id="k49-1"><use href="#fw" x="63" class="mg"/></g><g id="k49-2"><use href="#fw" x="139" class="bn"/></g><g id="k49-3"><use href="#fw" x="215" class="or"/></g><g id="k49-4"><use href="#fb" x="291" class="bn"/></g><g id="k49-5"><use href="#fb" x="367" class="mg"/></g></g>
<g id="row50" transform="translate(0 1917)"><g id="k50-1"><use href="#fb" x="101" class="mg"/></g><g id="k50-2"><use href="#fb" x="177" class="bn"/></g><g id="k50-3"><use href="#bw" x="253" class="bn"/></g><g id="k50-4"><use href="#bw" x="329" class="mg"/></g></g>
<g id="row51" transform="translate(0 1955)"><g id="k51-1"><use href="#bw" x="63" class="mg"/></g><g id="k51-2"><use href="#bw" x="139" class="bn"/></g><g id="k51-3"><use href="#bf" x="215" class="bn"/></g><g id="k51-4"><use href="#bf" x="291" class="mg"/></g><g id="k51-5"><use href="#bf" x="367" class="yl"/></g></g>
<g id="row52" transform="translate(0 1993)"><g id="k52-1"><use href="#bw" x="101" class="bn"/></g><g id="k52-2"><use href="#fb" x="177" class="pk"/></g><g id="k52-3"><use href="#fb" x="253" class="bn"/></g><g id="k52-4"><use href="#fb" x="329" class="mg"/></g></g>
<g id="row53" transform="translate(0 2031)"><g id="k53-1"><use href="#bf" x="63" class="bn"/></g><g id="k53-2"><use href="#bf" x="139" class="pk"/></g><g id="k53-3"><use href="#bf" x="215" class="bn"/></g><g id="k53-4"><use href="#bf" x="291" class="mg"/></g><g id="k53-5"><use href="#bf" x="367" class="yl"/></g></g>
<g id="row54" transform="translate(0 2069)"><g id="k54-1"><use href="#fw" x="101" class="bn"/></g><g id="k54-2"><use href="#fb" x="177" class="pk"/></g><g id="k54-3"><use href="#fb" x="253" class="bn"/></g><g id="k54-4"><use href="#fb" x="329" class="mg"/></g></g>
<g id="row55" transform="translate(0 2107)"><g id="k55-1"><use href="#fb" x="63" class="mg"/></g><g id="k55-2"><use href="#fb" x="139" class="bn"/></g><g id="k55-3"><use href="#bw" x="215" class="bn"/></g><g id="k55-4"><use href="#bw" x="291" class="mg"/></g><g id="k55-5"><use href="#bw" x="367" class="yl"/></g></g>
<g id="row56" transform="translate(0 2145)"><g id="k56-1"><use href="#bw" x="101" class="bn"/></g><g id="k56-2"><use href="#bf" x="177" class="bn"/></g><g id="k56-3"><use href="#bf" x="253" class="mg"/></g><g id="k56-4"><use href="#bf" x="329" class="yl"/></g></g>
<g id="row57" transform="translate(0 2183)"><g id="k57-1"><use href="#bw" x="63" class="bn"/></g><g id="k57-2"><use href="#fb" x="139" class="yl"/></g><g id="k57-3"><use href="#fb" x="215" class="bn"/></g><g id="k57-4"><use href="#fb" x="291" class="mg"/></g><g id="k57-5"><use href="#fb" x="367" class="yl"/></g></g>
<g id="row58" transform="translate(0 2221)"><g id="k58-1"><use href="#bf" x="101" class="yl"/></g><g id="k58-2"><use href="#bf" x="177" class="bn"/></g><g id="k58-3"><use href="#bf" x="253" class="mg"/></g><g id="k58-4"><use href="#bf" x="329" class="yl"/></g></g>
<g id="row59" transform="translate(0 2259)"><g id="k59-1"><use href="#fw" x="63" class="bn"/></g><g id="k59-2"><use href="#fb" x="139" class="yl"/></g><g id="k59-3"><use href="#fb" x="215" class="bn"/></g><g id="k59-4"><use href="#fb" x="291" class="mg"/></g><g id="k59-5"><use href="#fb" x="367" class="yl"/></g></g>
<g id="row60" transform="translate(0 2297)"><g id="k60-1"><use href="#fb" x="101" class="bn"/></g><g id="k60-2"><use href="#bw" x="177" class="bn"/></g><g id="k60-3"><use href="#bw" x="253" class="mg"/></g><g id="k60-4"><use href="#bw" x="329" class="yl"/></g></g>
</g>
<text id="watermark" x="215.5" y="1181.5" text-anchor="middle" font-family="'Liberation Sans', Arial, sans-serif" font-weight="bold" font-size="14" fill="#3d3d3d" stroke="#fff" stroke-width="2" paint-order="stroke" opacity=".85">BRACELETBOOK.COM</text>
</svg>
